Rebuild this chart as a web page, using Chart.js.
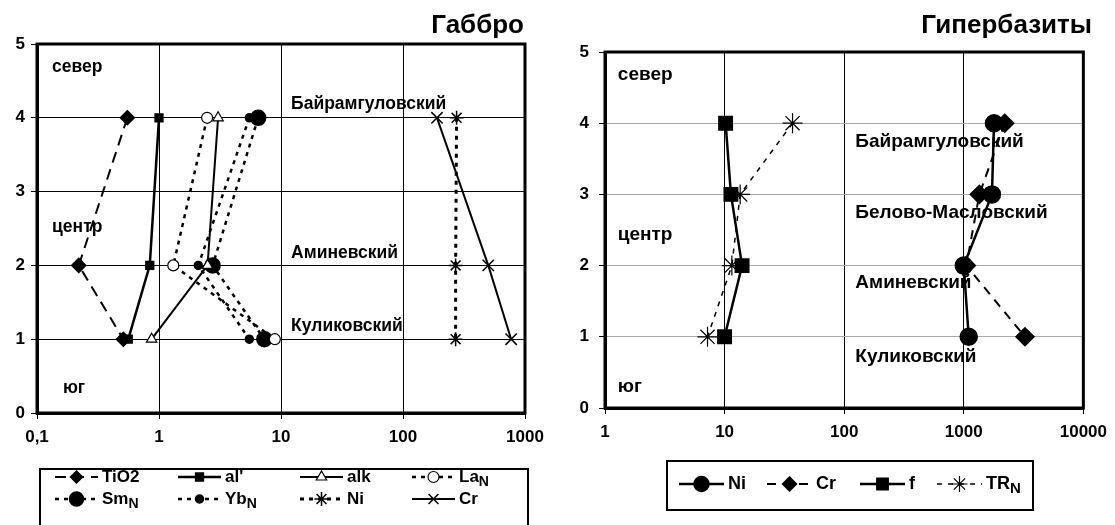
<!DOCTYPE html>
<html>
<head>
<meta charset="utf-8">
<script src="https://cdn.jsdelivr.net/npm/chart.js@4.4.0/dist/chart.umd.min.js"></script>
<style>
  body { margin: 0; background: #fff; width: 1115px; height: 525px; overflow: hidden; position: relative; }
  canvas { position: absolute; top: 0; }
</style>
</head>
<body>
<canvas id="gabbro" width="555" height="525" style="left:0"></canvas>
<canvas id="hyper" width="560" height="525" style="left:555px"></canvas>
<script>
// --- data: Габбро (levels 4 = север ... 1 = юг)
const gabbroLevels = [4, 2, 1];
const gabbroTiO2 = [0.55, 0.22, 0.51];
const gabbroAl = [1.0, 0.84, 0.56];
const gabbroAlk = [3.05, 2.5, 0.87];
const gabbroLa = [2.48, 1.31, 8.9];
const gabbroSm = [6.5, 2.75, 7.3];
const gabbroYb = [5.5, 2.1, 5.5];
const gabbroNi = [275, 270, 270];
const gabbroCr = [190, 500, 770];

// --- data: Гипербазиты
const hyperLevels = [4, 3, 2, 1];
const hyperNi = [1790, 1720, 1000, 1100];
const hyperCr = [2200, 1350, 1050, 3250];
const hyperF = [10.2, 11.3, 14, 10];
const hyperTR = [37, 13.5, 11.5, 7.2];

// --- axes
const gabbroXTicks = [0.1, 1, 10, 100, 1000];
const gabbroXLabels = ['0,1', '1', '10', '100', '1000'];
const hyperXTicks = [1, 10, 100, 1000, 10000];
const hyperXLabels = ['1', '10', '100', '1000', '10000'];

Chart.defaults.font.family = '"Liberation Sans", Arial, sans-serif';
Chart.defaults.color = '#000';

function pts(xs, levels) {
  return xs.map((v, i) => ({ x: v, y: levels[i] }));
}

function series(label, xs, levels, style) {
  return Object.assign({
    label: label,
    data: pts(xs, levels),
    showLine: true,
    tension: 0,
    borderColor: '#000',
    borderWidth: 2,
    pointBorderColor: '#000',
    pointBackgroundColor: '#000',
    pointBorderWidth: 1.5,
    legendRadius: 5
  }, style);
}

function axes(xTicks, xLabels, yGrid, yWidth, yPad, size) {
  return {
    x: {
      type: 'logarithmic',
      min: xTicks[0],
      max: xTicks[xTicks.length - 1],
      afterBuildTicks: s => { s.ticks = xTicks.map(v => ({ value: v })); },
      afterFit: s => { s.height = 40; },
      ticks: {
        callback: (v, i) => xLabels[i],
        font: { size: size, weight: 'bold' },
        padding: 8, maxRotation: 0, autoSkip: false
      },
      grid: { color: '#000', lineWidth: 1, tickLength: 6, tickColor: '#000' },
      border: { color: '#000', width: 3 }
    },
    y: {
      min: 0, max: 5,
      afterFit: s => { s.width = yWidth; },
      ticks: { stepSize: 1, font: { size: size, weight: 'bold' }, padding: yPad },
      grid: { color: yGrid, lineWidth: 1, tickLength: 6, tickColor: '#000' },
      border: { color: '#000', width: 3 }
    }
  };
}

// frame, title, region labels and boxed legend
const sketchPlugin = {
  id: 'sketch',
  afterDraw(chart, args, opts) {
    const { ctx, chartArea: a } = chart;
    const sx = chart.scales.x, sy = chart.scales.y;
    ctx.save();
    ctx.strokeStyle = '#000';
    ctx.lineWidth = 3;
    ctx.strokeRect(a.left, a.top, a.right - a.left, a.bottom - a.top);

    ctx.fillStyle = '#000';
    ctx.font = 'bold 26px "Liberation Sans", Arial, sans-serif';
    ctx.textAlign = 'right';
    ctx.textBaseline = 'alphabetic';
    ctx.fillText(opts.title, opts.titleX, 33);

    ctx.font = 'bold ' + opts.noteSize + 'px "Liberation Sans", Arial, sans-serif';
    ctx.textAlign = 'left';
    ctx.textBaseline = 'middle';
    opts.notes.forEach(n => {
      ctx.fillText(n[0], sx.getPixelForValue(n[1]), sy.getPixelForValue(n[2]));
    });

    const lg = opts.legend;
    ctx.lineWidth = 2;
    ctx.strokeRect(lg.box[0], lg.box[1], lg.box[2], lg.box[3]);
    chart.data.datasets.forEach((ds, i) => {
      const col = i % lg.cols.length;
      const row = Math.floor(i / lg.cols.length);
      const x0 = lg.cols[col], x1 = x0 + lg.lineLen, yy = lg.rows[row];
      ctx.strokeStyle = '#000';
      ctx.lineWidth = ds.borderWidth;
      ctx.setLineDash(ds.borderDash || []);
      ctx.beginPath();
      ctx.moveTo(x0, yy);
      ctx.lineTo(x1, yy);
      ctx.stroke();
      ctx.setLineDash([]);
      ctx.fillStyle = ds.pointBackgroundColor;
      ctx.lineWidth = ds.pointBorderWidth;
      Chart.helpers.drawPoint(ctx, {
        pointStyle: ds.pointStyle, radius: ds.legendRadius,
        rotation: 0, borderWidth: ds.pointBorderWidth
      }, (x0 + x1) / 2, yy);
      const parts = ds.label.split('_');
      ctx.fillStyle = '#000';
      ctx.font = 'bold ' + lg.size + 'px "Liberation Sans", Arial, sans-serif';
      ctx.textAlign = 'left';
      ctx.textBaseline = 'middle';
      ctx.fillText(parts[0], x1 + 4, yy);
      if (parts[1]) {
        const w = ctx.measureText(parts[0]).width;
        ctx.font = 'bold ' + (lg.size - 3) + 'px "Liberation Sans", Arial, sans-serif';
        ctx.fillText(parts[1], x1 + 4 + w, yy + 5);
      }
    });
    ctx.restore();
  }
};

const gabbroChart = new Chart(document.getElementById('gabbro'), {
  type: 'scatter',
  data: {
    datasets: [
      series('TiO2', gabbroTiO2, gabbroLevels, { borderDash: [11, 7], pointStyle: 'rectRot', pointRadius: 7, legendRadius: 6 }),
      series("al'", gabbroAl, gabbroLevels, { borderWidth: 2.5, pointStyle: 'rect', pointRadius: 5.5, legendRadius: 5.5 }),
      series('alk', gabbroAlk, gabbroLevels, { pointStyle: 'triangle', pointRadius: 6, legendRadius: 6, pointBackgroundColor: '#fff', pointBorderWidth: 1.2 }),
      series('La_N', gabbroLa, gabbroLevels, { borderWidth: 2.5, borderDash: [4, 5], pointStyle: 'circle', pointRadius: 5.5, legendRadius: 5.5, pointBackgroundColor: '#fff', pointBorderWidth: 1.2 }),
      series('Sm_N', gabbroSm, gabbroLevels, { borderWidth: 2.5, borderDash: [4, 5], pointStyle: 'circle', pointRadius: 7.5, legendRadius: 7 }),
      series('Yb_N', gabbroYb, gabbroLevels, { borderWidth: 2.5, borderDash: [4, 5], pointStyle: 'circle', pointRadius: 4, legendRadius: 4 }),
      series('Ni', gabbroNi, gabbroLevels, { borderWidth: 3, borderDash: [4, 5], pointStyle: 'star', pointRadius: 7, legendRadius: 7 }),
      series('Cr', gabbroCr, gabbroLevels, { pointStyle: 'crossRot', pointRadius: 8, legendRadius: 7 })
    ]
  },
  options: {
    responsive: false,
    animation: false,
    devicePixelRatio: 1,
    layout: { padding: { left: 0, right: 30, top: 44, bottom: 72 } },
    scales: axes(gabbroXTicks, gabbroXLabels, '#000', 37, 6, 17),
    plugins: {
      legend: { display: false },
      tooltip: { enabled: false },
      sketch: {
        title: 'Габбро',
        titleX: 524,
        noteSize: 17.5,
        notes: [
          ['север', 0.133, 4.69],
          ['центр', 0.133, 2.52],
          ['юг', 0.163, 0.34],
          ['Байрамгуловский', 12.1, 4.19],
          ['Аминевский', 12.1, 2.17],
          ['Куликовский', 12.1, 1.18]
        ],
        legend: { box: [40, 469, 488, 70], cols: [55, 178, 300, 412], rows: [477, 499], lineLen: 43, size: 17 }
      }
    }
  },
  plugins: [sketchPlugin]
});

const hyperChart = new Chart(document.getElementById('hyper'), {
  type: 'scatter',
  data: {
    datasets: [
      series('Ni', hyperNi, hyperLevels, { borderWidth: 2.5, pointStyle: 'circle', pointRadius: 8.5, legendRadius: 7.5 }),
      series('Cr', hyperCr, hyperLevels, { borderDash: [9, 7], pointStyle: 'rectRot', pointRadius: 9, legendRadius: 7 }),
      series('f', hyperF, hyperLevels, { borderWidth: 2.5, pointStyle: 'rect', pointRadius: 9.5, legendRadius: 8 }),
      series('TR_N', hyperTR, hyperLevels, { borderWidth: 1.5, borderDash: [5, 6], pointStyle: 'star', pointRadius: 10, legendRadius: 8, pointBorderWidth: 1.2 })
    ]
  },
  options: {
    responsive: false,
    animation: false,
    devicePixelRatio: 1,
    layout: { padding: { left: 0, right: 28, top: 52, bottom: 77 } },
    scales: axes(hyperXTicks, hyperXLabels, '#aaa', 50, 10, 17),
    plugins: {
      legend: { display: false },
      tooltip: { enabled: false },
      sketch: {
        title: 'Гипербазиты',
        titleX: 537,
        noteSize: 19,
        notes: [
          ['север', 1.28, 4.68],
          ['центр', 1.28, 2.43],
          ['юг', 1.28, 0.3],
          ['Байрамгуловский', 124, 3.74],
          ['Белово-Масловский', 124, 2.74],
          ['Аминевский', 124, 1.76],
          ['Куликовский', 124, 0.72]
        ],
        legend: { box: [112, 461, 366, 49], cols: [124, 212, 305, 382], rows: [484], lineLen: 45, size: 18 }
      }
    }
  },
  plugins: [sketchPlugin]
});
</script>
</body>
</html>
